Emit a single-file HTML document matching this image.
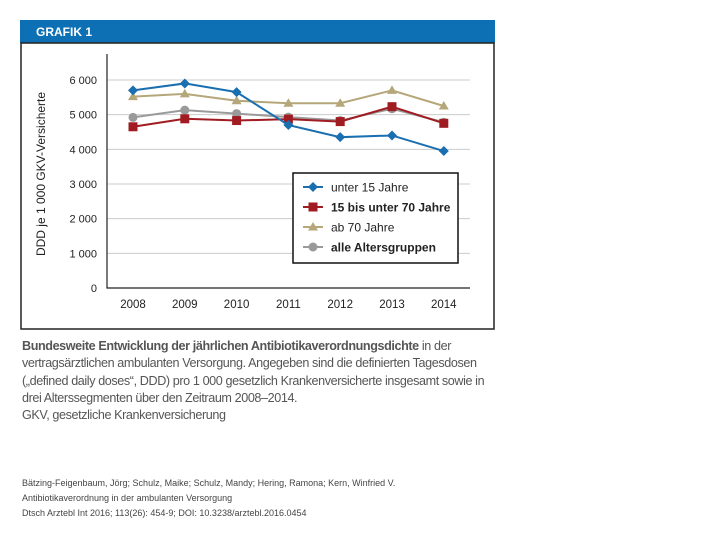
<!DOCTYPE html>
<html><head><meta charset="utf-8"><style>
body{margin:0;width:720px;height:540px;background:#fff;font-family:"Liberation Sans",sans-serif;position:relative;overflow:hidden}
.cap{position:absolute;left:22px;top:338px;width:480px;font-size:12.6px;line-height:17.3px;color:#555;letter-spacing:-0.4px}
.cite{position:absolute;left:22px;top:476px;font-size:9px;line-height:15px;color:#444}
</style></head><body>
<svg width="720" height="540" style="position:absolute;left:0;top:0">
<rect x="20" y="20" width="475" height="23" fill="#0d6fb4"/>
<text x="36" y="36" font-size="12" font-weight="bold" fill="#fff">GRAFIK 1</text>
<rect x="21" y="43" width="473" height="286" fill="none" stroke="#222" stroke-width="1.5"/>
<g id="grid"></g><g id="series"></g>
<text transform="translate(45,174) rotate(-90)" text-anchor="middle" font-size="12" fill="#222">DDD je 1 000 GKV-Versicherte</text>
<g>
<rect x="293" y="173" width="165" height="90" fill="#fff" stroke="#111" stroke-width="1.5"/>
</g>
<g id="leg"></g>
</svg>
<div class="cap"><b>Bundesweite Entwicklung der jährlichen Antibiotikaverordnungsdichte</b> in der vertragsärztlichen ambulanten Versorgung. Angegeben sind die definierten Tagesdosen („defined daily doses“, DDD) pro 1 000 gesetzlich Krankenversicherte insgesamt sowie in drei Alterssegmenten über den Zeitraum 2008–2014.<br>GKV, gesetzliche Krankenversicherung</div>
<div class="cite">Bätzing-Feigenbaum, Jörg; Schulz, Maike; Schulz, Mandy; Hering, Ramona; Kern, Winfried V.<br>Antibiotikaverordnung in der ambulanten Versorgung<br>Dtsch Arztebl Int 2016; 113(26): 454-9; DOI: 10.3238/arztebl.2016.0454</div>
<script>
const years=["2008","2009","2010","2011","2012","2013","2014"];
const yTicks=[0,1000,2000,3000,4000,5000,6000];
const yTickLabels=["0","1 000","2 000","3 000","4 000","5 000","6 000"];
const under15=[5700,5900,5650,4700,4350,4400,3950];
const mid=[4650,4880,4830,4870,4800,5230,4750];
const over70=[5520,5600,5400,5330,5330,5700,5250];
const all=[4920,5130,5030,4930,4830,5170,4780];
const names=["unter 15 Jahre","15 bis unter 70 Jahre","ab 70 Jahre","alle Altersgruppen"];
const NS="http://www.w3.org/2000/svg";
const x=i=>133+i*51.8, y=v=>288-v*0.03467;
function mk(t,a,p){const e=document.createElementNS(NS,t);for(const k in a)e.setAttribute(k,a[k]);p.appendChild(e);return e;}
const g=document.getElementById('grid');
yTicks.forEach((v,i)=>{
 if(v>0){const l=mk('line',{x1:107,x2:470,y1:y(v),y2:y(v),stroke:'#ccc','stroke-width':1},g);
 
 }
 const t=mk('text',{x:97,y:y(v)+4,'text-anchor':'end','font-size':11,fill:'#222'},g);t.textContent=yTickLabels[i];
 
 
});
const ax=mk('path',{d:'M107 54V288H470',fill:'none',stroke:'#222','stroke-width':1.2},g);


years.forEach((yr,i)=>{const t=mk('text',{x:x(i),y:308,'text-anchor':'middle','font-size':11.5,fill:'#222'},g);t.textContent=yr;
 
 });
function marker(type,cx,cy,col,p){
 if(type==0)return mk('path',{d:`M${cx} ${cy-5}L${cx+5} ${cy}L${cx} ${cy+5}L${cx-5} ${cy}Z`,fill:col},p);
 if(type==1)return mk('rect',{x:cx-4.5,y:cy-4.5,width:9,height:9,fill:col},p);
 if(type==2)return mk('path',{d:`M${cx} ${cy-5}L${cx+5} ${cy+3.5}L${cx-5} ${cy+3.5}Z`,fill:col},p);
 return mk('circle',{cx:cx,cy:cy,r:4.5,fill:col},p);
}
const sg=document.getElementById('series');
const series=[[over70,'#b5a77a',2],[all,'#9a9a9a',3],[mid,'#a01c22',1],[under15,'#1a6fb0',0]];
series.forEach(([d,c,tp])=>{
 const pl=mk('polyline',{points:d.map((v,i)=>x(i)+','+y(v)).join(' '),fill:'none',stroke:c,'stroke-width':2},sg);
 
 
 d.forEach((v,i)=>{const m=marker(tp,x(i),y(v),c,sg);
  
  });
});
const lg=document.getElementById('leg');
const lc=['#1a6fb0','#a01c22','#b5a77a','#9a9a9a'];
names.forEach((n,i)=>{const yy=187+i*20;
 mk('line',{x1:303,x2:323,y1:yy,y2:yy,stroke:lc[i],'stroke-width':2},lg);
 marker(i,313,yy,lc[i],lg);
 const t=mk('text',{x:331,y:yy+4.5,'font-size':12,'font-weight':i%2?'bold':'normal',fill:'#222'},lg);t.textContent=n;
 
 
});
</script>
</body></html>
